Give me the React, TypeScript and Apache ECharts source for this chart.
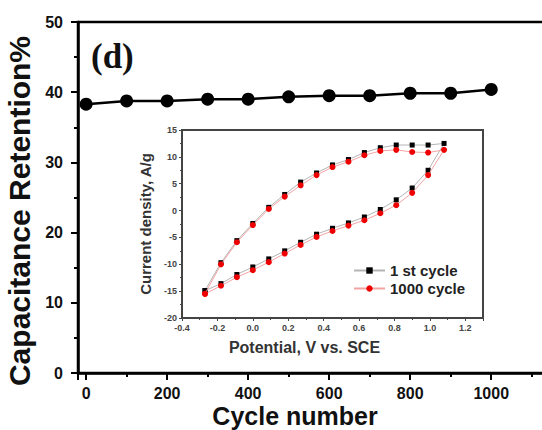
import React, { useEffect, useRef } from "react";
import * as echarts from "echarts";

const cycles = [0, 100, 200, 300, 400, 500, 600, 700, 800, 900, 1000];
const retention = [38.3, 38.75, 38.75, 39.0, 39.0, 39.35, 39.5, 39.5, 39.85, 39.85, 40.4];
const mainYTicks = [0, 10, 20, 30, 40, 50];

const potentialForward = [-0.27, -0.18, -0.09, 0, 0.09, 0.18, 0.27, 0.36, 0.45, 0.54, 0.63, 0.72, 0.81, 0.9, 0.99, 1.08];
const potentialReverse = [0.99, 0.9, 0.81, 0.72, 0.63, 0.54, 0.45, 0.36, 0.27, 0.18, 0.09, 0, -0.09, -0.18, -0.27];
const cycle1Forward = [-14.9, -9.7, -5.6, -2.4, 0.6, 3.0, 5.3, 7.0, 8.5, 9.5, 10.8, 11.7, 12.2, 12.2, 12.2, 12.5];
const cycle1Reverse = [7.5, 4.2, 2.0, 0.2, -1.2, -2.3, -3.3, -4.4, -5.9, -7.5, -9.0, -10.5, -11.9, -13.6, -14.9];
const cycle1000Forward = [-15.5, -10.0, -5.9, -2.7, 0.3, 2.6, 4.7, 6.6, 8.1, 9.1, 10.3, 11.1, 11.3, 10.9, 10.8, 11.3];
const cycle1000Reverse = [6.6, 3.3, 1.0, -0.5, -1.8, -2.8, -3.8, -4.9, -6.4, -8.0, -9.6, -11.1, -12.4, -14.0, -15.5];
const seriesNames = ["1 st cycle", "1000 cycle"];

const loop = (fx: number[], fy: number[], rx: number[], ry: number[]) =>
  fx.map((x, i) => [x, fy[i]]).concat(rx.map((x, i) => [x, ry[i]]));

const SANS = "Liberation Sans, Arial, sans-serif";

export default function App() {
  const ref = useRef<HTMLDivElement>(null);
  useEffect(() => {
    if (!ref.current) return;
    const chart = echarts.init(ref.current, undefined, { renderer: "svg" });
    chart.setOption({
      animation: false,
      backgroundColor: "#fff",
      grid: [
        { left: 78, top: 22, width: 474, height: 351, outerBoundsMode: "none", containLabel: false, show: true, borderColor: "#000", borderWidth: 2.5, backgroundColor: "transparent" },
        { left: 182, top: 130, width: 301, height: 188, outerBoundsMode: "none", containLabel: false, show: true, borderColor: "#444", borderWidth: 2, backgroundColor: "#fff", z: 5 },
      ],
      legend: {
        data: seriesNames,
        orient: "vertical",
        left: 348,
        top: 258,
        itemWidth: 31,
        itemHeight: 8,
        itemGap: 3,
        textStyle: { fontFamily: SANS, fontWeight: "bold", fontSize: 15, color: "#222" },
        z: 10,
      },
      xAxis: [
        {
          type: "value",
          gridIndex: 0,
          min: -20,
          max: 1150,
          minInterval: 200,
          maxInterval: 200,
          splitNumber: 6,
          name: "Cycle number",
          nameLocation: "middle",
          nameGap: 30,
          nameMoveOverlap: false,
          nameTextStyle: { fontFamily: SANS, fontWeight: "bold", fontSize: 25, lineHeight: 25, color: "#111", padding: [0, 40, 0, 0] },
          axisLine: { show: true, onZero: false, lineStyle: { color: "#000", width: 2.5 } },
          axisTick: { show: true, length: 7, lineStyle: { color: "#000", width: 2 } },
          minorTick: { show: true, splitNumber: 2, length: 4, lineStyle: { color: "#000", width: 2 } },
          splitLine: { show: false },
          axisLabel: {
            fontFamily: SANS, fontWeight: "bold", fontSize: 16, color: "#111", margin: 12,
            formatter: (v: number) => (v >= 0 && v <= 1000 && v % 200 === 0 ? String(v) : ""),
          },
        },
        {
          type: "value",
          gridIndex: 1,
          min: -0.4,
          max: 1.3,
          interval: 0.2,
          name: "Potential, V vs. SCE",
          nameLocation: "middle",
          nameGap: 21,
          nameTextStyle: { fontFamily: SANS, fontWeight: "bold", fontSize: 16, color: "#333", padding: [0, 56, 0, 0] },
          axisLine: { show: true, onZero: false, lineStyle: { color: "#444", width: 1.5 } },
          axisTick: { show: true, length: 3, lineStyle: { color: "#444" } },
          minorTick: { show: true, splitNumber: 2, length: 2, lineStyle: { color: "#444" } },
          splitLine: { show: false },
          axisLabel: {
            fontFamily: SANS, fontWeight: "bold", fontSize: 9, color: "#444", margin: 5, showMaxLabel: false,
            formatter: (v: number) => v.toFixed(1),
          },
        },
      ],
      yAxis: [
        {
          type: "value",
          gridIndex: 0,
          min: mainYTicks[0],
          max: mainYTicks[mainYTicks.length - 1],
          interval: 10,
          name: "Capacitance Retention%",
          nameLocation: "middle",
          nameGap: 36,
          nameTextStyle: { fontFamily: SANS, fontWeight: "bold", fontSize: 30, color: "#111", padding: [0, 27, 0, 0] },
          axisLine: { show: true, onZero: false, lineStyle: { color: "#000", width: 2.5 } },
          axisTick: { show: true, length: 7, lineStyle: { color: "#000", width: 2 } },
          minorTick: { show: true, splitNumber: 2, length: 4, lineStyle: { color: "#000", width: 2 } },
          splitLine: { show: false },
          axisLabel: { fontFamily: SANS, fontWeight: "bold", fontSize: 16, color: "#111", margin: 15 },
        },
        {
          type: "value",
          gridIndex: 1,
          min: -20,
          max: 15,
          interval: 5,
          name: "Current density, A/g",
          nameLocation: "middle",
          nameGap: 24,
          nameTextStyle: { fontFamily: SANS, fontWeight: "bold", fontSize: 15, color: "#333" },
          axisLine: { show: true, onZero: false, lineStyle: { color: "#444", width: 1.5 } },
          axisTick: { show: true, length: 3, lineStyle: { color: "#444" } },
          minorTick: { show: true, splitNumber: 2, length: 2, lineStyle: { color: "#444" } },
          splitLine: { show: false },
          axisLabel: { fontFamily: SANS, fontWeight: "bold", fontSize: 9, color: "#444", margin: 5 },
        },
      ],
      graphic: [
        {
          type: "text",
          left: 91,
          top: 39,
          z: 20,
          style: { text: "(d)", font: "bold 35px 'Liberation Serif', 'Times New Roman', serif", fill: "#111" },
        },
      ],
      series: [
        {
          type: "line",
          name: "retention",
          xAxisIndex: 0,
          yAxisIndex: 0,
          data: cycles.map((c, i) => [c, retention[i]]),
          symbol: "circle",
          symbolSize: 13,
          lineStyle: { color: "#000", width: 2.5 },
          itemStyle: { color: "#000" },
          z: 3,
        },
        {
          type: "line",
          name: seriesNames[0],
          xAxisIndex: 1,
          yAxisIndex: 1,
          data: loop(potentialForward, cycle1Forward, potentialReverse, cycle1Reverse),
          symbol: "rect",
          symbolSize: 5,
          lineStyle: { color: "#b4b4b4", width: 1 },
          itemStyle: { color: "#000" },
          z: 6,
        },
        {
          type: "line",
          name: seriesNames[1],
          xAxisIndex: 1,
          yAxisIndex: 1,
          data: loop(potentialForward, cycle1000Forward, potentialReverse, cycle1000Reverse),
          symbol: "circle",
          symbolSize: 6,
          lineStyle: { color: "#f4a3a3", width: 1 },
          itemStyle: { color: "#ee0000" },
          z: 7,
        },
      ],
    });
    return () => chart.dispose();
  }, []);
  return (
    <div
      ref={ref}
      style={{ position: "fixed", left: 0, top: 0, width: 542, height: 430, background: "#fff" }}
    />
  );
}
